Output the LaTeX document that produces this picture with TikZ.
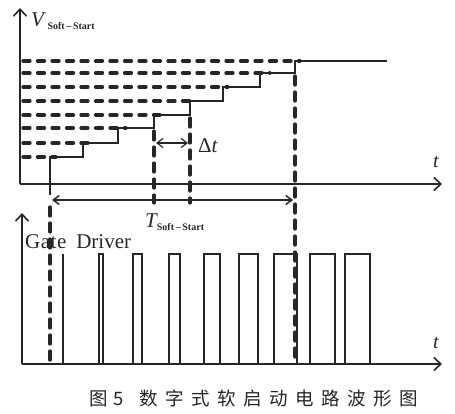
\documentclass[tikz,border=0pt]{standalone}
\usepackage{fontspec}
\setmainfont{Liberation Serif}
\newfontfamily\cjk{Noto Sans CJK SC}
\usetikzlibrary{arrows.meta}
\colorlet{ink}{black!85}
\tikzset{
  axis/.style={line width=1.8pt,-{Straight Barb[length=7pt,width=13pt,line width=1.6pt]}},
  stair/.style={line width=1.6pt},
  lvl/.style={line width=3.2pt,line cap=round,dash pattern=on 7pt off 7.5pt},
  vdash/.style={line width=3.2pt,line cap=round,dash pattern=on 9pt off 7pt},
  pulse/.style={line width=1.6pt},
  dim/.style={line width=1.2pt,{Straight Barb[length=6pt,width=9pt]}-{Straight Barb[length=6pt,width=9pt]}},
  lbl/.style={inner sep=0pt,font=\fontsize{20}{20}\selectfont\itshape}
}
\begin{document}
\begin{tikzpicture}[x=1pt,y=-1pt,color=ink]
\useasboundingbox (0,0) rectangle (455,414);
% top axes
\coordinate (O1) at (20,184);
\coordinate (Y1) at (20,8);
\coordinate (X1) at (442,184);
\draw[axis] (O1) -- (Y1);
\draw[axis] (O1) -- (X1);
% bottom axes
\coordinate (O2) at (22,364);
\coordinate (Y2) at (22,213);
\coordinate (X2) at (442,364);
\draw[axis] (O2) -- (Y2);
\draw[axis] (O2) -- (X2);
% dashed levels
\foreach \xs/\yy in {56/157,93/143,126/128,160/115,196/101,228/87,270/73,300/61}
  \draw[lvl] (23,\yy) -- (\xs,\yy);
% staircase
\coordinate (S0) at (50,195);
\coordinate (S8) at (387,61);
\draw[stair] (S0) -- (50,157) -- (83,157) -- (83,143) -- (118,143) -- (118,128)
  -- (154,128) -- (154,115) -- (190,115) -- (190,101) -- (223,101) -- (223,87)
  -- (260,87) -- (260,73) -- (295,73) -- (295,61) -- (S8);
% dashed verticals
\coordinate (A) at (154,131);
\coordinate (A2) at (154,203);
\coordinate (B) at (190,118);
\coordinate (B2) at (190,203);
\coordinate (C) at (295,76);
\coordinate (C2) at (295,362);
\coordinate (D) at (50,207);
\coordinate (D2) at (50,362);
\draw[vdash] (A) -- (A2);
\draw[vdash] (B) -- (B2);
\draw[vdash] (C) -- (C2);
\draw[vdash] (D) -- (D2);
% delta t
\coordinate (dt1) at (156,143);
\coordinate (dt2) at (188,143);
\draw[dim] (dt1) -- (dt2);
\node[lbl,anchor=west,font=\fontsize{21}{21}\selectfont] (dtl) at (198,146) {Δ\textit{t}};
% T soft start
\coordinate (T1) at (52,200);
\coordinate (T2) at (293,200);
\draw[dim,line width=1.5pt] (T1) -- (T2);
\node[inner sep=0pt,anchor=base west] (Tl) at (145,227) {\fontsize{21}{21}\selectfont\itshape T\raisebox{-3pt}{\fontsize{10}{10}\selectfont\upshape\bfseries Soft\,–\,Start}};
% V label
\node[inner sep=0pt,anchor=base west] (Vl) at (31,27) {\fontsize{21}{21}\selectfont\itshape V\raisebox{-3pt}{\,\fontsize{10}{10}\selectfont\upshape\bfseries Soft\,–\,Start}};
% t labels
\node[lbl] (t1) at (436,162) {t};
\node[lbl] (t2) at (436,343) {t};
% Gate Driver
\node[inner sep=0pt,anchor=base west,font=\fontsize{21}{21}\selectfont] (gd) at (25,248) {G\kern0.5pt a\kern0.5pt t\kern0.5pt e\hspace{10pt}Driver};
% pulses
\draw[pulse] (63,364) -- (63,254);
\foreach \a/\b in {99/103,133/142,169/180,204/220,239/258,274/297,310/335,345/370}
  \draw[pulse] (\a,364) -- (\a,254) -- (\b,254) -- (\b,364);
% caption
\node[inner sep=0pt,anchor=west,font=\cjk\fontsize{18.5}{18.5}\selectfont] (cap) at (89,398)
  {图\hspace{6pt}5\hspace{16pt}数\hspace{7.5pt}字\hspace{7.5pt}式\hspace{7.5pt}软\hspace{7.5pt}启\hspace{7.5pt}动\hspace{7.5pt}电\hspace{7.5pt}路\hspace{7.5pt}波\hspace{7.5pt}形\hspace{7.5pt}图};
\end{tikzpicture}
\end{document}
